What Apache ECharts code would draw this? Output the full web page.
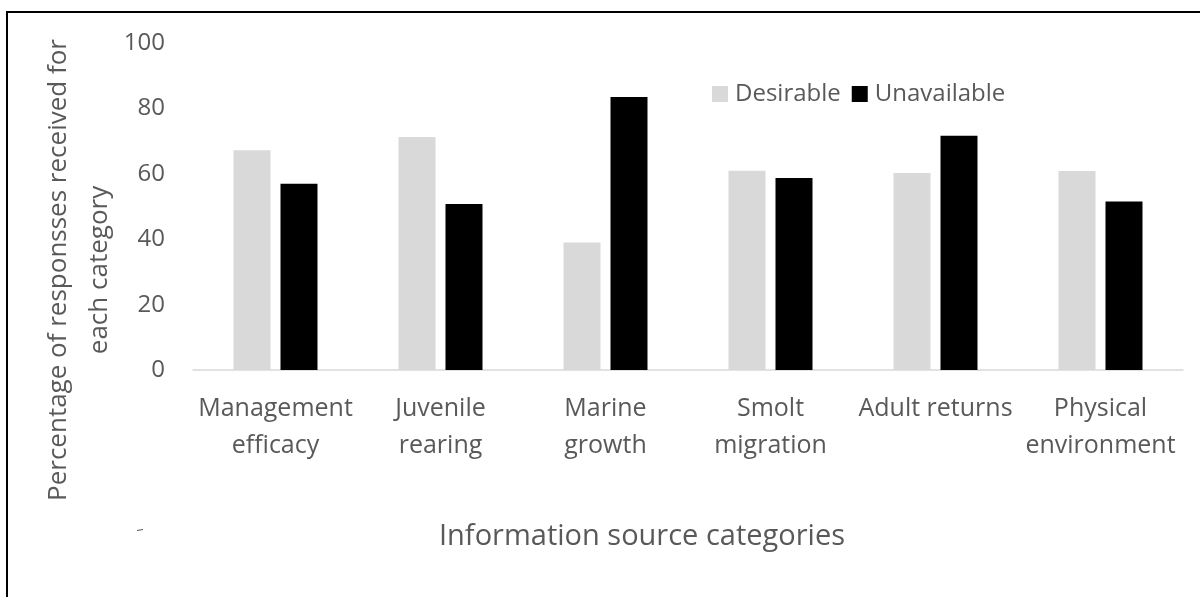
<!DOCTYPE html>
<html>
<head>
<meta charset="utf-8">
<script src="https://cdn.jsdelivr.net/npm/echarts@6/dist/echarts.min.js"></script>
<style>
  html, body { margin: 0; padding: 0; background: #fff; }
  #chart { width: 1200px; height: 597px; }
</style>
</head>
<body>
<div id="chart"></div>
<script>
const categories = ["Management\nefficacy", "Juvenile\nrearing", "Marine\ngrowth", "Smolt\nmigration", "Adult returns", "Physical\nenvironment"];
const desirable = [67.3, 71.3, 39.0, 61.0, 60.3, 60.9];
const unavailable = [57.0, 50.8, 83.6, 58.8, 71.7, 51.6];
const yTicks = [0, 20, 40, 60, 80, 100];
const seriesNames = ["Desirable", "Unavailable"];

const FONT = "'Open Sans', 'Noto Sans', sans-serif";
const TXT = "#595959";

const chart = echarts.init(document.getElementById('chart'), null, { renderer: 'canvas' });
chart.setOption({
  animation: false,
  backgroundColor: '#ffffff',
  textStyle: { fontFamily: FONT, color: TXT },
  grid: { left: 193, right: 17, top: 43.3, bottom: 227, containLabel: false },
  legend: {
    data: seriesNames,
    left: 707,
    top: 77,
    icon: 'rect',
    itemWidth: 16,
    itemHeight: 16,
    itemGap: 11,
    textStyle: { fontFamily: FONT, fontSize: 24, color: TXT, padding: [0, 0, 0, 2] }
  },
  xAxis: {
    type: 'category',
    data: categories,
    axisTick: { show: false },
    axisLine: { lineStyle: { color: '#d9d9d9', width: 1.5 } },
    axisLabel: { fontFamily: FONT, fontSize: 25, color: TXT, lineHeight: 37, margin: 20, interval: 0 },
    splitLine: { show: false }
  },
  yAxis: {
    type: 'value',
    min: yTicks[0],
    max: yTicks[yTicks.length - 1],
    interval: yTicks[1] - yTicks[0],
    axisLine: { show: false },
    axisTick: { show: false },
    splitLine: { show: false },
    axisLabel: { fontFamily: FONT, fontSize: 24, color: TXT, margin: 28 }
  },
  series: [
    { name: seriesNames[0], type: 'bar', data: desirable, barWidth: 37, barGap: '27%',
      itemStyle: { color: '#d9d9d9' } },
    { name: seriesNames[1], type: 'bar', data: unavailable, barWidth: 37,
      itemStyle: { color: '#000000' } }
  ],
  graphic: [
    { type: 'rect', shape: { x: 7, y: 12, width: 1200, height: 600 },
      style: { fill: 'none', stroke: '#000', lineWidth: 2 }, silent: true },
    { type: 'text', x: 79, y: 270, rotation: Math.PI / 2,
      style: { text: 'Percentage of responsses received for\neach category', fontFamily: FONT, fontSize: 26,
        fill: TXT, align: 'center', verticalAlign: 'middle', lineHeight: 41 } },
    { type: 'text', x: 642, y: 537,
      style: { text: 'Information source categories', fontFamily: FONT, fontSize: 29,
        fill: TXT, align: 'center', verticalAlign: 'middle' } },
    { type: 'line', shape: { x1: 137, y1: 530.5, x2: 143, y2: 529.5 },
      style: { stroke: TXT, lineWidth: 1.2 } }
  ]
});
</script>
</body>
</html>
